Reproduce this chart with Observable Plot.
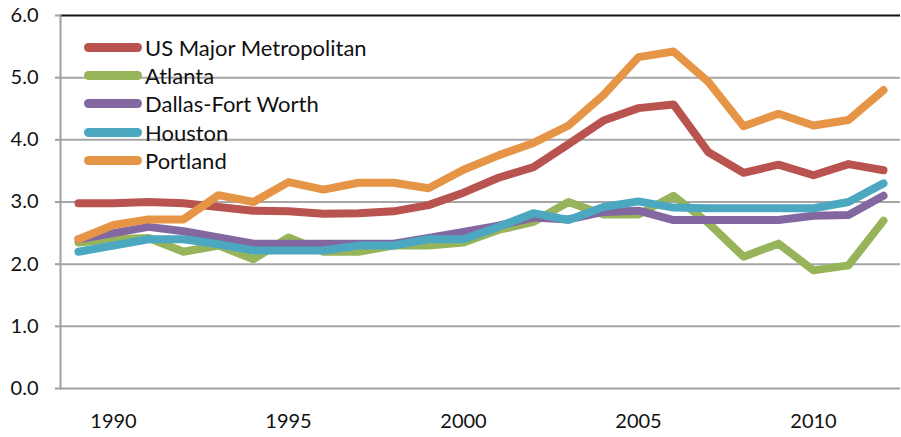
<!DOCTYPE html>
<html>
<head>
<meta charset="utf-8">
<script src="https://cdn.jsdelivr.net/npm/d3@7"></script>
<script src="https://cdn.jsdelivr.net/npm/@observablehq/plot@0.6"></script>
<style>
  html, body { margin: 0; padding: 0; background: #fff; }
  #wrap { position: relative; width: 901px; height: 437px; font-family: Lato, "Open Sans", sans-serif; }
  #legend { position: absolute; left: 84px; top: 33px; }
  .row { display: flex; align-items: center; height: 28.3px; font-size: 22px; color: #111; }
  .sw { width: 58px; height: 9px; border-radius: 5px; margin-right: 3px; }
</style>
</head>
<body>
<div id="wrap"><div id="legend"></div></div>
<script>
const years = [1989,1990,1991,1992,1993,1994,1995,1996,1997,1998,1999,2000,2001,2002,2003,2004,2005,2006,2007,2008,2009,2010,2011,2012];
const seriesNames = ["US Major Metropolitan","Atlanta","Dallas-Fort Worth","Houston","Portland"];
const seriesColors = ["#B9534F","#98B45B","#8267A0","#4BA8C0","#E69547"];
const usMajor = [2.98,2.98,3.0,2.98,2.92,2.86,2.85,2.81,2.82,2.85,2.95,3.15,3.39,3.56,3.93,4.31,4.51,4.57,3.8,3.47,3.6,3.43,3.61,3.51];
const atlanta = [2.35,2.4,2.42,2.2,2.3,2.08,2.43,2.2,2.2,2.3,2.3,2.35,2.55,2.68,3.0,2.8,2.8,3.1,2.66,2.12,2.33,1.9,1.98,2.7];
const dallas  = [2.4,2.5,2.6,2.53,2.43,2.33,2.33,2.33,2.33,2.33,2.42,2.52,2.62,2.75,2.72,2.84,2.86,2.71,2.71,2.71,2.71,2.78,2.79,3.1];
const houston = [2.2,2.3,2.4,2.4,2.32,2.22,2.22,2.22,2.3,2.3,2.4,2.4,2.6,2.82,2.71,2.92,3.01,2.91,2.9,2.9,2.9,2.9,3.0,3.3];
const portland= [2.4,2.63,2.72,2.72,3.11,3.0,3.32,3.2,3.31,3.31,3.22,3.52,3.75,3.95,4.23,4.72,5.33,5.42,4.93,4.22,4.42,4.23,4.32,4.8];
const yTicks = [0,1,2,3,4,5,6];
const xTicks = [1990,1995,2000,2005,2010];

const allSeries = [usMajor, atlanta, dallas, houston, portland];
const data = [];
allSeries.forEach((vals, si) => vals.forEach((v, i) => data.push({year: years[i], value: v, series: seriesNames[si]})));

const chart = Plot.plot({
  width: 901, height: 437,
  marginTop: 15, marginBottom: 49, marginLeft: 60, marginRight: 1,
  style: {fontFamily: "Lato, 'Open Sans', sans-serif", fontSize: "20px", color: "#111", background: "#fff"},
  x: {type: "point", domain: years, padding: 0.5},
  y: {domain: [0, 6]},
  color: {domain: seriesNames, range: seriesColors},
  marks: [
    Plot.ruleY(yTicks.filter(d => d > 0 && d < 6), {stroke: "#a6a6a6", strokeWidth: 2}),
    Plot.ruleY([0], {stroke: "#a0a0a0", strokeWidth: 2}),
    Plot.ruleY([6], {stroke: "#111", strokeWidth: 2}),
    Plot.frame({anchor: "left", stroke: "#a0a0a0", strokeWidth: 2}),
    Plot.axisY({ticks: yTicks, tickFormat: d3.format(".1f"), tickSize: 5, tickPadding: 17, stroke: "#a0a0a0", strokeWidth: 2, label: null, fontSize: 20}),
    Plot.axisX({ticks: xTicks, tickFormat: d => String(d), tickSize: 0, tickPadding: 25, label: null, fontSize: 20}),
    Plot.line(data, {x: "year", y: "value", z: "series", stroke: "series", strokeWidth: 8, strokeLinecap: "round", strokeLinejoin: "round"})
  ]
});
document.getElementById("wrap").prepend(chart);

const legend = document.getElementById("legend");
seriesNames.forEach((n, i) => {
  const row = document.createElement("div");
  row.className = "row";
  const sw = document.createElement("span");
  sw.className = "sw";
  sw.style.background = seriesColors[i];
  const t = document.createElement("span");
  t.textContent = n;
  row.append(sw, t);
  legend.append(row);
});
</script>
</body>
</html>
